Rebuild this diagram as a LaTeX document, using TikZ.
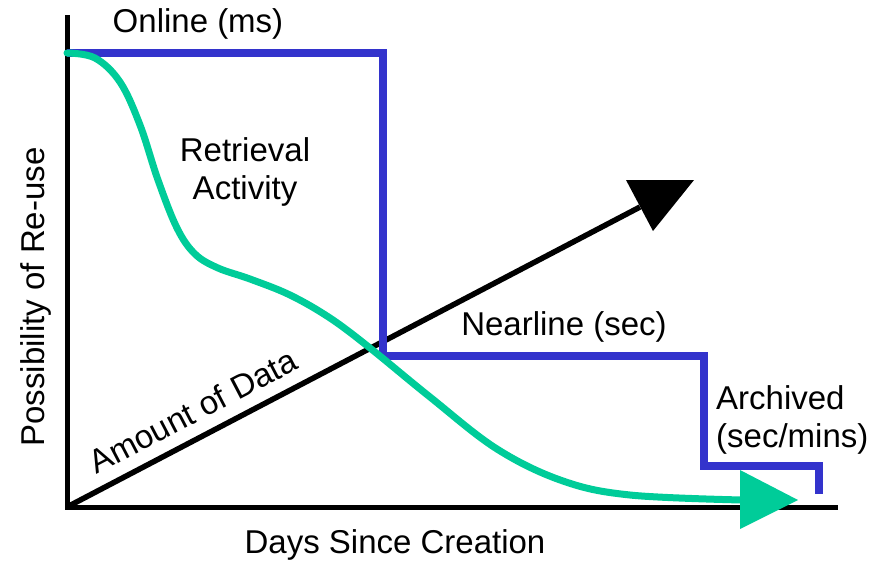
\documentclass[tikz,border=0pt]{standalone}
\usepackage{fontspec}
\setmainfont{Liberation Sans}
\definecolor{tierblue}{RGB}{51,51,204}
\definecolor{reusegreen}{RGB}{0,204,153}
\begin{document}
\begin{tikzpicture}[x=1pt,y=-1pt,
  lbl/.style={font=\fontsize{33}{38}\selectfont, inner sep=0pt, text=black},
  axis/.style={line width=5pt, black},
  tier/.style={line width=8pt, tierblue, line join=miter},
  reuse/.style={line width=7pt, reusegreen, line cap=round},
  datal/.style={line width=5.5pt, black}]
\useasboundingbox (0,0) rectangle (882,563);
% axes
\coordinate (O) at (67,507);
\coordinate (Ytop) at (67,15);
\coordinate (Xend) at (838,507);
\draw[axis] (Ytop) -- (O) -- (Xend);
% amount of data arrow
\coordinate (Dend) at (640,207);
\draw[datal] (O) -- (Dend);
\fill[black] (626,180) -- (694,180) -- (653,231) -- cycle;
% tier line
\coordinate (T0) at (67,53);
\coordinate (T1) at (383,53);
\coordinate (T2) at (383,356);
\coordinate (T3) at (704,356);
\coordinate (T4) at (704,466);
\coordinate (T5) at (819,466);
\coordinate (T6) at (819,494);
\draw[tier] (T0) -- (T1) -- (T2) -- (T3) -- (T4) -- (T5) -- (T6);
% reuse curve
\draw[reuse] plot[smooth, tension=0.6] coordinates {(67,53) (95,58) (120,82) (140,125) (158,180) (177,228) (195,254) (218,268) (250,279) (290,295) (330,318) (370,348) (430,397) (497,449) (563,481) (630,495) (742,500)};
\fill[reusegreen] (740,470) -- (740,529) -- (798,500) -- cycle;
% labels
\node[lbl] (online) at (198,24) {Online (ms)};
\node[lbl, align=center] (retr) at (245,172) {Retrieval\\Activity};
\node[lbl] (near) at (564,327) {Nearline (sec)};
\node[lbl, align=left, anchor=west] (arch) at (716,420) {Archived\\(sec/mins)};
\node[lbl] (days) at (395,545) {Days Since Creation};
\node[lbl, rotate=90] (poss) at (36,297) {Possibility of Re-use};
\node[lbl, rotate=27.6] (amount) at (193,411) {Amount of Data};
\end{tikzpicture}
\end{document}
